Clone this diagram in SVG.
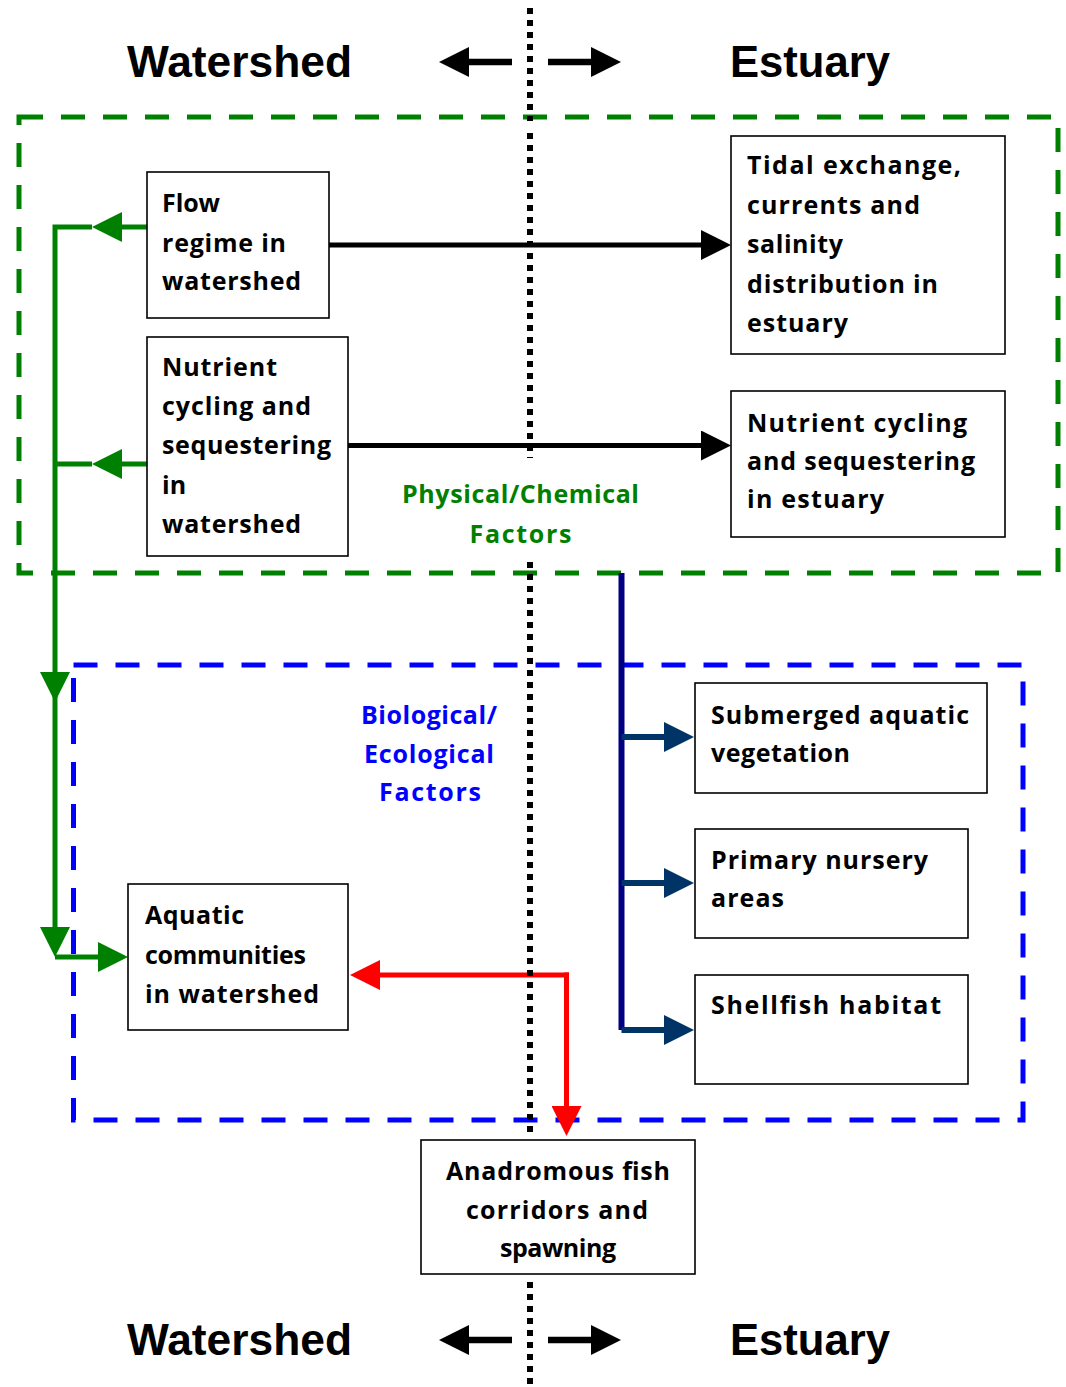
<svg xmlns="http://www.w3.org/2000/svg" width="1066" height="1387" viewBox="0 0 1066 1387">
  <style>
    .hdr { font-family: "Liberation Sans", Arial, sans-serif; font-weight: bold; font-size: 44px; fill: #000; }
    .t { font-family: "Comic Sans MS", "Open Sans", "DejaVu Sans", sans-serif; font-weight: bold; font-size: 25px; fill: #000; }
    .phys { fill: #008000; }
    .bio { fill: #0000ff; }
    .mid { text-anchor: middle; }
    .box { fill: #fff; stroke: #000; stroke-width: 1.6; }
    .frame { fill: none; stroke-width: 5; stroke-dasharray: 24 18; }
    .divider { fill: none; stroke: #000; stroke-width: 6; stroke-dasharray: 6 6; }
    .k { fill: none; stroke: #000; stroke-width: 5; }
    .kh { fill: none; stroke: #000; stroke-width: 6.5; }
    .g { fill: none; stroke: #008000; stroke-width: 5; }
    .r { fill: none; stroke: #ff0000; stroke-width: 5; stroke-linecap: square; }
    .nv { fill: none; stroke: #000080; stroke-width: 6; }
    .nb { fill: none; stroke: #003366; stroke-width: 6; }
  </style>
  <defs>
    <!-- arrowheads: base sits on the line end, tip 30px further on -->
    <marker id="ah-black" markerUnits="userSpaceOnUse" viewBox="0 0 30 30" refX="0" refY="15" markerWidth="30" markerHeight="30" orient="auto">
      <path d="M0,0 L30,15 L0,30 z" fill="#000"/>
    </marker>
    <marker id="ah-green" markerUnits="userSpaceOnUse" viewBox="0 0 30 30" refX="0" refY="15" markerWidth="30" markerHeight="30" orient="auto">
      <path d="M0,0 L30,15 L0,30 z" fill="#008000"/>
    </marker>
    <marker id="ah-red" markerUnits="userSpaceOnUse" viewBox="0 0 30 30" refX="0" refY="15" markerWidth="30" markerHeight="30" orient="auto">
      <path d="M0,0 L30,15 L0,30 z" fill="#ff0000"/>
    </marker>
    <marker id="ah-navy" markerUnits="userSpaceOnUse" viewBox="0 0 30 30" refX="0" refY="15" markerWidth="30" markerHeight="30" orient="auto">
      <path d="M0,0 L30,15 L0,30 z" fill="#003366"/>
    </marker>
  </defs>

  <rect width="1066" height="1387" fill="#fff"/>

  <!-- headers -->
  <g id="header-top">
    <text class="hdr" x="127" y="77" textLength="225" lengthAdjust="spacingAndGlyphs">Watershed</text>
    <text class="hdr" x="730" y="77" textLength="160" lengthAdjust="spacingAndGlyphs">Estuary</text>
    <path class="kh" d="M512,62 H469" marker-end="url(#ah-black)"/>
    <path class="kh" d="M548,62 H591" marker-end="url(#ah-black)"/>
  </g>
  <g id="header-bottom">
    <text class="hdr" x="127" y="1355" textLength="225" lengthAdjust="spacingAndGlyphs">Watershed</text>
    <text class="hdr" x="730" y="1355" textLength="160" lengthAdjust="spacingAndGlyphs">Estuary</text>
    <path class="kh" d="M512,1340 H469" marker-end="url(#ah-black)"/>
    <path class="kh" d="M548,1340 H591" marker-end="url(#ah-black)"/>
  </g>

  <!-- factor groupings -->
  <g id="physical-chemical-frame">
    <rect class="frame" x="19" y="117" width="1039" height="456" stroke="#008000"/>
  </g>
  <g id="biological-ecological-frame">
    <rect class="frame" x="73.5" y="665" width="949.5" height="455" stroke="#0000ff"/>
  </g>

  <!-- connectors -->
  <g id="connectors">
    <path class="k" d="M329,245 H701" marker-end="url(#ah-black)"/>
    <path class="k" d="M348,445.5 H701" marker-end="url(#ah-black)"/>

    <path class="g" d="M147,227 H122" marker-end="url(#ah-green)"/>
    <path class="g" d="M147,464 H122" marker-end="url(#ah-green)"/>
    <path class="g" d="M92,464 H55"/>
    <path class="g" d="M92,227 H55 V672" marker-end="url(#ah-green)"/>
    <path class="g" d="M55,696 V927" marker-end="url(#ah-green)"/>
    <path class="g" d="M55,957 H98" marker-end="url(#ah-green)"/>

    <path class="nv" d="M621.5,573 V1030"/>
    <path class="nb" d="M621.5,737 H664" marker-end="url(#ah-navy)"/>
    <path class="nb" d="M621.5,883 H664" marker-end="url(#ah-navy)"/>
    <path class="nb" d="M621.5,1030 H664" marker-end="url(#ah-navy)"/>

    <path class="r" d="M566.5,975 H380" marker-end="url(#ah-red)"/>
    <path class="r" d="M566.5,975 V1106" marker-end="url(#ah-red)"/>
  </g>

  <!-- watershed / estuary divide -->
  <g id="divide">
    <path class="divider" d="M530,8 V121 M530,133 V458 M530,562 V1138 M530,1282 V1387"/>
  </g>

  <!-- nodes -->
  <g id="flow-regime">
    <rect class="box" x="147" y="172" width="182" height="146"/>
    <text class="t" x="162" y="212" textLength="58" lengthAdjust="spacing">Flow</text>
    <text class="t" x="162" y="252" textLength="124" lengthAdjust="spacing">regime in</text>
    <text class="t" x="162" y="290" textLength="139" lengthAdjust="spacing">watershed</text>
  </g>
  <g id="nutrient-watershed">
    <rect class="box" x="147" y="337" width="201" height="219"/>
    <text class="t" x="162" y="376" textLength="115" lengthAdjust="spacing">Nutrient</text>
    <text class="t" x="162" y="415" textLength="149" lengthAdjust="spacing">cycling and</text>
    <text class="t" x="162" y="454" textLength="169" lengthAdjust="spacing">sequestering</text>
    <text class="t" x="162" y="494">in</text>
    <text class="t" x="162" y="533" textLength="139" lengthAdjust="spacing">watershed</text>
  </g>
  <g id="tidal-exchange">
    <rect class="box" x="731" y="136" width="274" height="218"/>
    <text class="t" x="747" y="174" textLength="214" lengthAdjust="spacing">Tidal exchange,</text>
    <text class="t" x="747" y="214" textLength="173" lengthAdjust="spacing">currents and</text>
    <text class="t" x="747" y="253" textLength="96" lengthAdjust="spacing">salinity</text>
    <text class="t" x="747" y="293" textLength="191" lengthAdjust="spacing">distribution in</text>
    <text class="t" x="747" y="332" textLength="101" lengthAdjust="spacing">estuary</text>
  </g>
  <g id="nutrient-estuary">
    <rect class="box" x="731" y="391" width="274" height="146"/>
    <text class="t" x="747" y="432" textLength="220" lengthAdjust="spacing">Nutrient cycling</text>
    <text class="t" x="747" y="470" textLength="228" lengthAdjust="spacing">and sequestering</text>
    <text class="t" x="747" y="508" textLength="137" lengthAdjust="spacing">in estuary</text>
  </g>
  <g id="physical-chemical-label">
    <text class="t phys mid" x="520.5" y="503" textLength="237" lengthAdjust="spacing">Physical/Chemical</text>
    <text class="t phys mid" x="520.5" y="543" textLength="102" lengthAdjust="spacing">Factors</text>
  </g>
  <g id="biological-ecological-label">
    <text class="t bio mid" x="429" y="724" textLength="136" lengthAdjust="spacing">Biological/</text>
    <text class="t bio mid" x="429" y="763" textLength="130" lengthAdjust="spacing">Ecological</text>
    <text class="t bio mid" x="430" y="801" textLength="102" lengthAdjust="spacing">Factors</text>
  </g>
  <g id="aquatic-communities">
    <rect class="box" x="128" y="884" width="220" height="146"/>
    <text class="t" x="145" y="924" textLength="99" lengthAdjust="spacing">Aquatic</text>
    <text class="t" x="145" y="964" textLength="161" lengthAdjust="spacing">communities</text>
    <text class="t" x="145" y="1003" textLength="174" lengthAdjust="spacing">in watershed</text>
  </g>
  <g id="submerged-vegetation">
    <rect class="box" x="695" y="683" width="292" height="110"/>
    <text class="t" x="711" y="724" textLength="258" lengthAdjust="spacing">Submerged aquatic</text>
    <text class="t" x="711" y="762" textLength="139" lengthAdjust="spacing">vegetation</text>
  </g>
  <g id="nursery-areas">
    <rect class="box" x="695" y="829" width="273" height="109"/>
    <text class="t" x="711" y="869" textLength="217" lengthAdjust="spacing">Primary nursery</text>
    <text class="t" x="711" y="907" textLength="73" lengthAdjust="spacing">areas</text>
  </g>
  <g id="shellfish-habitat">
    <rect class="box" x="695" y="975" width="273" height="109"/>
    <text class="t" x="711" y="1014" textLength="230" lengthAdjust="spacing">Shellfish habitat</text>
  </g>
  <g id="anadromous-fish">
    <rect class="box" x="421" y="1140" width="274" height="134"/>
    <text class="t mid" x="558" y="1180" textLength="224" lengthAdjust="spacing">Anadromous fish</text>
    <text class="t mid" x="557" y="1219" textLength="182" lengthAdjust="spacing">corridors and</text>
    <text class="t mid" x="558" y="1257" textLength="116" lengthAdjust="spacing">spawning</text>
  </g>
</svg>
